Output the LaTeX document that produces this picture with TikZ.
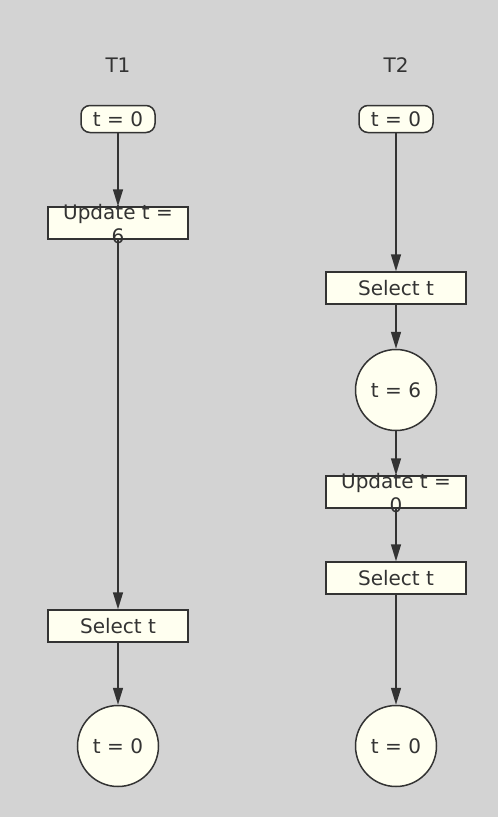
\documentclass[tikz,border=0pt]{standalone}
\usepackage{fontspec}
\setmainfont{DejaVu Sans}
\usetikzlibrary{arrows.meta}
\definecolor{bg}{HTML}{D3D3D3}
\definecolor{nodefill}{HTML}{FFFFF0}
\definecolor{ink}{HTML}{333333}
\begin{document}
\begin{tikzpicture}[x=1pt,y=-1pt,
  every node/.style={font=\fontsize{20}{24}\selectfont, text=ink},
  startbox/.style={draw=ink, fill=nodefill, line width=1.5pt, rounded corners=9pt,
    minimum width=74pt, minimum height=27pt, inner sep=0pt},
  actbox/.style={draw=ink, fill=nodefill, line width=1.5pt,
    minimum width=140pt, minimum height=32pt, inner sep=0pt},
  statecirc/.style={draw=ink, fill=nodefill, line width=1.5pt, circle,
    minimum size=81pt, inner sep=0pt},
  flow/.style={draw=ink, line width=1.5pt, -{Triangle[length=17pt,width=10pt]}},
  overtext/.style={align=center, inner sep=0pt}
]
\fill[bg] (0,0) rectangle (498,817);
\useasboundingbox (0,0) rectangle (498,817);

% T1
\node (t1) at (118,65) {T1};
\node[startbox] (a0) at (118,119) {t = 0};
\node[actbox] (a1) at (118,223) {};
\node[overtext] (a1t) at (118,224) {Update t =\\6};
\node[actbox] (a2) at (118,626) {Select t};
\node[statecirc] (a3) at (118,746) {t = 0};

\draw[flow] (a0.south) -- (a1.north);
\draw[flow] (a1.south) -- (a2.north);
\draw[flow] (a2.south) -- (a3.north);

% T2
\node (t2) at (396,65) {T2};
\node[startbox] (b0) at (396,119) {t = 0};
\node[actbox] (b1) at (396,288) {Select t};
\node[statecirc] (b2) at (396,390) {t = 6};
\node[actbox] (b3) at (396,492) {};
\node[overtext] (b3t) at (396,493) {Update t =\\0};
\node[actbox] (b4) at (396,578) {Select t};
\node[statecirc] (b5) at (396,746) {t = 0};

\draw[flow] (b0.south) -- (b1.north);
\draw[flow] (b1.south) -- (b2.north);
\draw[flow] (b2.south) -- (b3.north);
\draw[flow] (b3.south) -- (b4.north);
\draw[flow] (b4.south) -- (b5.north);
\end{tikzpicture}
\end{document}
